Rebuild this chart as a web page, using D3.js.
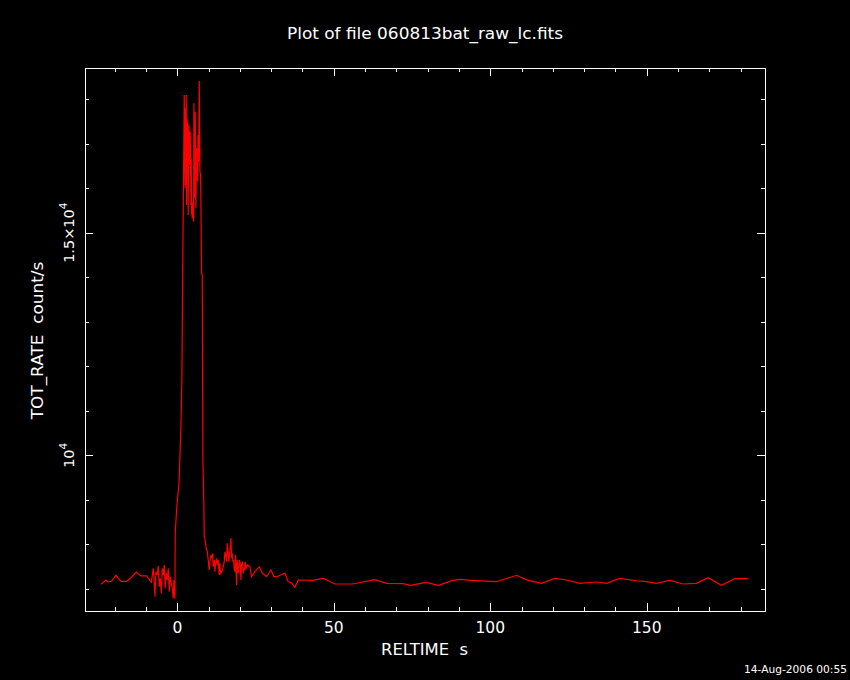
<!DOCTYPE html>
<html>
<head>
<meta charset="utf-8">
<script src="https://cdn.jsdelivr.net/npm/d3@7"></script>
<style>
  html, body { margin: 0; padding: 0; background: #000; }
  svg { display: block; }
  text { font-family: "DejaVu Sans", sans-serif; fill: #fff; white-space: pre; }
</style>
</head>
<body>
<svg id="chart" width="850" height="680"></svg>
<script>
// ---- data ----
const titleText = "Plot of file 060813bat_raw_lc.fits";
const xLabel = "RELTIME  s";
const yLabel = "TOT_RATE  count/s";
const dateText = "14-Aug-2006 00:55";

const xMajorTicks = [0, 50, 100, 150];
const xTickLabels = ["0", "50", "100", "150"];
const yMajorTicks = [10000, 15000];
const yTickBase = ["10", "1.5\u00D710"];
const yTickExp = ["4", "4"];

const reltime = [
  -24.4, -22.8, -22.1, -21.0, -19.6, -18.0, -16.2, -14.8, -13.1, -11.6, -9.8, -8.3,
  -7.69, -7.37, -7.16, -6.84, -6.41, -6.09, -5.77, -5.45, -5.13, -4.81, -4.5, -4.18,
  -3.86, -3.54, -3.22, -2.9, -2.58, -2.26, -1.94, -1.62, -1.3, -1.09, -0.77,
  -0.67, -0.22, -0.03, 0.29, 0.61, 0.83, 1.15, 1.47, 1.8,
  2.11, 2.21, 2.43, 2.53, 2.64, 2.85, 2.96, 3.07, 3.28, 3.49, 3.6, 3.71, 3.92, 4.13,
  4.35, 4.45, 4.56, 4.77, 4.98, 5.2, 5.3, 5.41, 5.62, 5.73, 5.94, 6.16, 6.37, 6.48,
  6.58, 6.8, 7.01, 7.22, 7.44, 7.54, 7.75, 7.97, 8.18, 8.5, 8.6, 8.9, 9.25, 9.56, 9.88,
  10.2, 10.42, 10.73, 11.05, 11.27, 11.48, 11.8, 12.01, 12.23, 12.55, 12.76, 13.08,
  13.4, 13.61, 13.82, 14.14, 14.46, 14.67, 15.0, 15.21, 15.53, 15.74, 15.95, 16.27,
  16.49, 16.81, 17.12, 17.34, 17.55, 17.76, 17.98, 18.19, 18.4, 18.62, 18.94, 19.15,
  19.47, 19.68, 19.89, 20.11, 20.32, 20.53, 20.85, 21.07, 21.28, 21.49, 21.7, 21.92,
  22.45, 23.2, 23.73, 24.79, 26.18, 27.24, 28.52, 29.9, 30.86, 31.72, 34.38, 35.44,
  36.51, 37.57, 38.64,
  43.4, 46.6, 50.35, 56.0, 63.1, 66.9, 72.2, 74.5, 79.4, 83.5, 88.0, 90.5, 94.0,
  102.0, 108.4, 112.1, 116.4, 120.6, 124.4, 128.6, 134.0, 137.2, 141.2, 146.7,
  149.9, 153.1, 157.4, 161.6, 165.9, 169.6, 173.9, 178.1, 182.4
];
const totRate = [
  7102, 7199, 7154, 7177, 7305, 7170, 7170, 7251, 7379, 7290, 7290, 7147,
  7462, 7125, 6824, 7385, 7311, 7513, 7049, 7237, 6900, 7462, 7311, 7536,
  7013, 7350, 7199, 7462, 6936, 7273, 7125, 7013, 6788, 7199, 6780,
  8248, 8771, 8958, 9182, 9445, 9969, 10642, 11766, 14836,
  17194, 18093, 15997, 17794, 16071, 18093, 15622, 17569, 17418, 15397, 17044, 17418, 16520, 17268,
  15622, 16671, 15471, 15323, 15696, 15247, 17906, 16221, 15772, 17717, 15548, 16895, 16520, 16145,
  17194, 16594, 18407, 16370, 16295, 15696, 14088, 14050, 9856, 8810, 8180, 8100, 7900, 7840, 7648,
  7424, 7610, 7761, 7687, 7799, 7498, 7648, 7386, 7574, 7687, 7536, 7648,
  7312, 7574, 7350, 7386, 7424, 7498, 7610, 7835, 7723, 7610, 8024, 7761,
  7610, 7873, 8136, 7687, 7799, 7610, 7648, 7462, 7386, 7761, 7087, 7648,
  7350, 7498, 7648, 7574, 7199, 7536, 7610, 7350, 7462, 7424, 7610, 7462,
  7536, 7498, 7273, 7386, 7498, 7350, 7273, 7424, 7273, 7273, 7350, 7161,
  7139, 7035, 7199,
  7192, 7237, 7109, 7109, 7206, 7125, 7116, 7080, 7147, 7080, 7192, 7215, 7192,
  7161, 7305, 7192, 7125, 7237, 7199, 7125, 7154, 7125, 7237, 7183,
  7161, 7125, 7192, 7109, 7125, 7251, 7080, 7228, 7228
];

// ---- layout ----
const svg = d3.select("#chart");
svg.append("rect").attr("width", 850).attr("height", 680).attr("fill", "#000");

const L = 85, R = 765, T = 68, B = 611;
const x = d3.scaleLinear().domain([-29.5, 187.8]).range([L, R]);
const y = d3.scaleLinear().domain([6503, 18699]).range([B, T]);

const xMinor = d3.range(-20, 190, 10).filter(v => !xMajorTicks.includes(v));
const yMinor = d3.range(7000, 19000, 1000).filter(v => !yMajorTicks.includes(v));

function tickAxis(gen, pos, ticks, size) {
  return svg.append("g")
    .attr("transform", pos)
    .call(gen.tickValues(ticks).tickSize(size).tickFormat(""))
    .call(g => g.select(".domain").remove())
    .call(g => g.selectAll("line").attr("stroke", "#fff").attr("stroke-width", 1).attr("shape-rendering", "crispEdges"));
}
// bottom & top
tickAxis(d3.axisBottom(x), `translate(0,${B})`, xMajorTicks, -8);
tickAxis(d3.axisBottom(x), `translate(0,${B})`, xMinor, -4);
tickAxis(d3.axisTop(x), `translate(0,${T})`, xMajorTicks, -8);
tickAxis(d3.axisTop(x), `translate(0,${T})`, xMinor, -4);
// left & right
tickAxis(d3.axisLeft(y), `translate(${L},0)`, yMajorTicks, -8);
tickAxis(d3.axisLeft(y), `translate(${L},0)`, yMinor, -4);
tickAxis(d3.axisRight(y), `translate(${R},0)`, yMajorTicks, -8);
tickAxis(d3.axisRight(y), `translate(${R},0)`, yMinor, -4);

// frame
svg.append("rect")
  .attr("x", L).attr("y", T).attr("width", R - L).attr("height", B - T)
  .attr("fill", "none").attr("stroke", "#fff").attr("stroke-width", 1)
  .attr("shape-rendering", "crispEdges");

// data line
const pts = reltime.map((t, i) => [t, totRate[i]]);
svg.append("path")
  .datum(pts)
  .attr("fill", "none")
  .attr("stroke", "#ff0000")
  .attr("stroke-width", 1.2)
  .attr("d", d3.line().x(d => x(d[0])).y(d => y(d[1])));

// x tick labels
svg.append("g").selectAll("text")
  .data(xMajorTicks)
  .join("text")
  .attr("x", d => x(d))
  .attr("y", 633)
  .attr("text-anchor", "middle")
  .attr("font-size", 15.5)
  .text((d, i) => xTickLabels[i]);

// y tick labels (rotated)
yMajorTicks.forEach((v, i) => {
  const t = svg.append("text")
    .attr("transform", `translate(73.5,${y(v)}) rotate(-90)`)
    .attr("text-anchor", "middle")
    .attr("font-size", 14.5);
  t.append("tspan").text(yTickBase[i]);
  t.append("tspan").attr("dy", -7).attr("font-size", 10.5).text(yTickExp[i]);
});

// title
svg.append("text")
  .attr("x", 287).attr("y", 38.5)
  .attr("font-size", 16)
  .attr("textLength", 276).attr("lengthAdjust", "spacingAndGlyphs")
  .text(titleText);

// x axis label
svg.append("text")
  .attr("x", 381).attr("y", 655)
  .attr("font-size", 16)
  .attr("textLength", 87).attr("lengthAdjust", "spacingAndGlyphs")
  .text(xLabel);

// y axis label
svg.append("text")
  .attr("transform", "translate(43.3,419.3) rotate(-90)")
  .attr("font-size", 16)
  .attr("textLength", 157.6).attr("lengthAdjust", "spacingAndGlyphs")
  .text(yLabel);

// date stamp
svg.append("text")
  .attr("x", 744).attr("y", 672.7)
  .attr("font-size", 11)
  .attr("textLength", 103).attr("lengthAdjust", "spacingAndGlyphs")
  .text(dateText);
</script>
</body>
</html>
